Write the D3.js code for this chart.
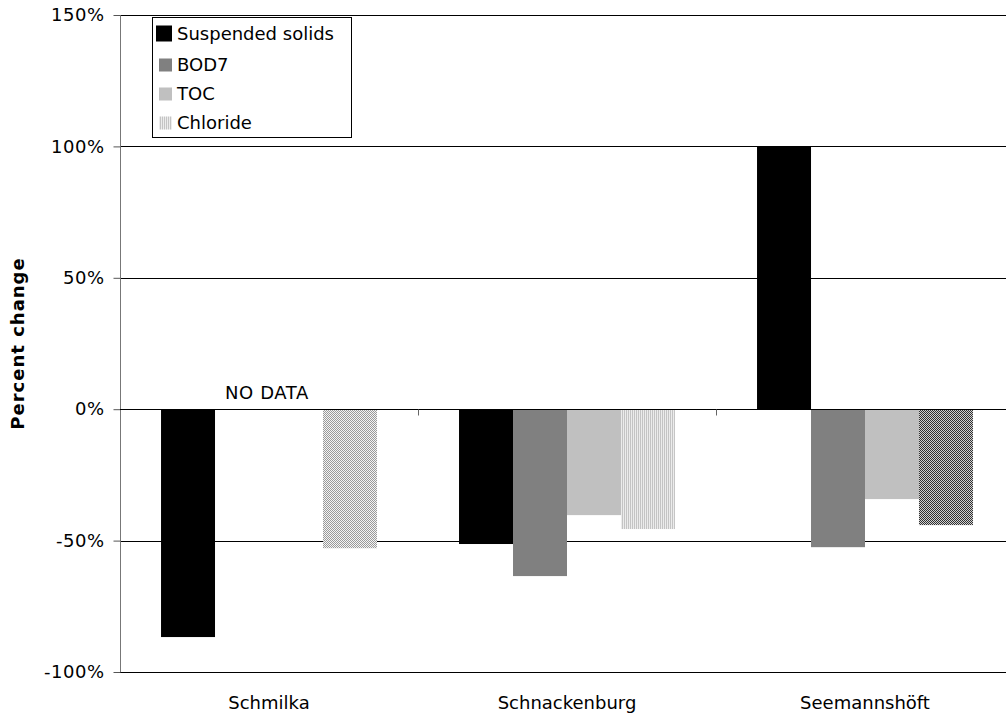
<!DOCTYPE html>
<html>
<head>
<meta charset="utf-8">
<script src="https://cdn.jsdelivr.net/npm/d3@7"></script>
<style>
  html, body { margin: 0; padding: 0; background: #fff; }
  svg { display: block; font-family: "DejaVu Sans", Verdana, sans-serif; }
</style>
</head>
<body>
<svg id="chart" width="1006" height="719"></svg>
<script>
// Percent change per monitoring station
const categories = ["Schmilka", "Schnackenburg", "Seemannshöft"];
const series = ["Suspended solids", "BOD7", "TOC", "Chloride"];
const suspendedSolids = [-86.7, -51.3, 100];
const bod7 = [null, -63.5, -52.5];
const toc = [null, -40.3, -34.2];
const chloride = [-52.9, -45.6, -44.1];
const yTicks = [-100, -50, 0, 50, 100, 150];
const noDataLabel = "NO DATA";

const seriesValues = [suspendedSolids, bod7, toc, chloride];

const svg = d3.select("#chart");
const margin = { left: 120, top: 15, bottom: 672 };
const plotRight = 1014;
const fontSize = 18;

const y = d3.scaleLinear().domain([-100, 150]).range([margin.bottom, margin.top]);
const x0 = d3.scaleBand().domain(categories).range([margin.left, plotRight]).padding(0);
const x1 = d3.scaleBand().domain(series).range([0, x0.bandwidth()]).paddingInner(0).paddingOuter(0.76);

// Fill patterns
const defs = svg.append("defs");
function checker(id, dark, light) {
  const p = defs.append("pattern").attr("id", id).attr("patternUnits", "userSpaceOnUse")
    .attr("width", 2).attr("height", 2);
  p.append("rect").attr("width", 2).attr("height", 2).attr("fill", light);
  p.append("rect").attr("width", 1).attr("height", 1).attr("fill", dark);
  p.append("rect").attr("x", 1).attr("y", 1).attr("width", 1).attr("height", 1).attr("fill", dark);
}
function stripes(id, dark, light) {
  const p = defs.append("pattern").attr("id", id).attr("patternUnits", "userSpaceOnUse")
    .attr("width", 2).attr("height", 2);
  p.append("rect").attr("width", 2).attr("height", 2).attr("fill", light);
  p.append("rect").attr("width", 1).attr("height", 2).attr("fill", dark);
}
checker("chk-light", "#9a9a9a", "#f4f4f4");
stripes("stripe-v", "#c4c4c4", "#ececec");
checker("chk-dark", "#303030", "#d0d0d0");

const seriesFill = {
  "Suspended solids": () => "#000000",
  "BOD7": () => "#808080",
  "TOC": () => "#c0c0c0",
  "Chloride": (ci) => ["url(#chk-light)", "url(#stripe-v)", "url(#chk-dark)"][ci]
};

// Horizontal gridlines
svg.append("g").selectAll("line").data(yTicks.filter(d => d !== 0)).join("line")
  .attr("x1", margin.left).attr("x2", plotRight)
  .attr("y1", d => Math.round(y(d)) + 0.5).attr("y2", d => Math.round(y(d)) + 0.5)
  .attr("stroke", "#000").attr("stroke-width", 1);

// Bars
const barData = [];
categories.forEach((c, ci) => {
  series.forEach((s, si) => {
    const v = seriesValues[si][ci];
    if (v !== null) barData.push({ c, ci, s, v });
  });
});
svg.append("g").selectAll("rect").data(barData).join("rect")
  .attr("x", d => x0(d.c) + x1(d.s))
  .attr("width", x1.bandwidth())
  .attr("y", d => y(Math.max(0, d.v)))
  .attr("height", d => Math.abs(y(d.v) - y(0)))
  .attr("fill", d => seriesFill[d.s](d.ci));

// Y axis
const yAxis = d3.axisLeft(y).tickValues(yTicks).tickSize(7).tickPadding(9)
  .tickFormat(d => d + "%");
const gy = svg.append("g").attr("transform", `translate(${margin.left + 0.5},0)`).call(yAxis);
gy.select(".domain").attr("stroke", "#777").attr("d", `M0,${margin.top}V${margin.bottom}`);
gy.selectAll(".tick line").attr("stroke", "#555");
gy.selectAll(".tick text").attr("font-size", fontSize).attr("fill", "#000")
  .attr("letter-spacing", 0.5)
  .attr("font-family", "'DejaVu Sans', Verdana, sans-serif");

// Zero line with category separators
const zeroY = Math.round(y(0)) + 0.5;
svg.append("line").attr("x1", margin.left).attr("x2", plotRight)
  .attr("y1", zeroY).attr("y2", zeroY).attr("stroke", "#000");
svg.append("g").selectAll("line").data(categories.slice(1)).join("line")
  .attr("x1", d => Math.round(x0(d)) + 0.5).attr("x2", d => Math.round(x0(d)) + 0.5)
  .attr("y1", zeroY).attr("y2", zeroY + 6).attr("stroke", "#666");

// Category labels
svg.append("g").selectAll("text").data(categories).join("text")
  .attr("x", d => x0(d) + x0.bandwidth() / 2)
  .attr("y", 709)
  .attr("text-anchor", "middle").attr("font-size", fontSize).attr("fill", "#000")
  .text(d => d);

// Missing-data note for Schmilka
svg.append("text")
  .attr("x", x0("Schmilka") + x0.bandwidth() / 2 - 2)
  .attr("y", y(0) - 10)
  .attr("text-anchor", "middle").attr("font-size", fontSize).attr("fill", "#000")
  .attr("letter-spacing", 0.6)
  .text(noDataLabel);

// Y axis title
svg.append("text")
  .attr("transform", `translate(24,${(margin.top + margin.bottom) / 2}) rotate(-90)`)
  .attr("text-anchor", "middle").attr("font-size", 18).attr("font-weight", "bold")
  .attr("letter-spacing", 1)
  .text("Percent change");

// Legend
const legend = svg.append("g");
legend.append("rect").attr("x", 152.5).attr("y", 17.5).attr("width", 199).attr("height", 120)
  .attr("fill", "#fff").attr("stroke", "#000");
const legendFill = ["#000000", "#808080", "#c0c0c0", "url(#stripe-v)"];
const rowY = [33.5, 65, 94, 123];
series.forEach((s, i) => {
  const size = i === 0 ? 16 : 13;
  legend.append("rect")
    .attr("x", 172 - size).attr("y", rowY[i] - size / 2)
    .attr("width", size).attr("height", size)
    .attr("fill", legendFill[i]);
  legend.append("text").attr("x", 177).attr("y", rowY[i] + 6)
    .attr("font-size", fontSize).attr("fill", "#000").text(s);
});
</script>
</body>
</html>
